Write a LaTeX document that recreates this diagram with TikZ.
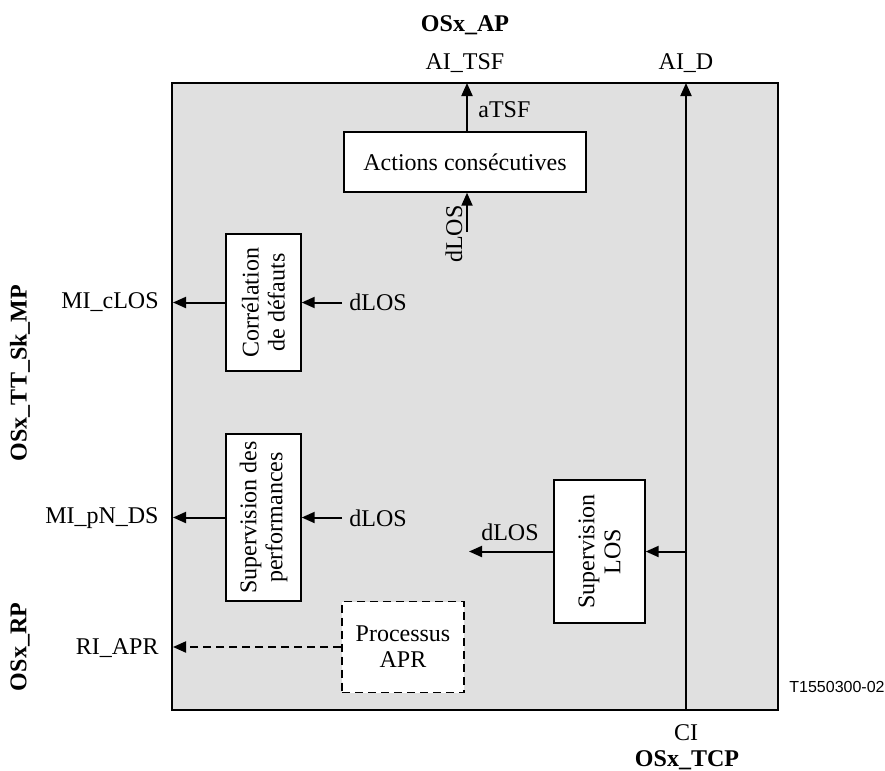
\documentclass[tikz,border=0pt]{standalone}
\usepackage{fontspec}
\setmainfont{Liberation Serif}
\newfontfamily\labsans{Liberation Sans}
\usetikzlibrary{arrows.meta}
\definecolor{panelgray}{RGB}{224,224,224}
\tikzset{
  box/.style={draw=black, line width=0.7pt, fill=white, inner sep=1pt, align=center, font=\fontsize{12}{13}\selectfont},
  dbox/.style={box, dashed, dash pattern=on 4pt off 2.5pt, line width=0.9pt},
  arr/.style={line width=1pt, -{Triangle[length=6.5pt,width=5.5pt]}},
  darr/.style={arr, dash pattern=on 4pt off 2.5pt},
  lab/.style={font=\fontsize{12}{13}\selectfont, inner sep=1pt},
  blab/.style={font=\bfseries\fontsize{12}{13}\selectfont, inner sep=1pt}
}
\begin{document}
\begin{tikzpicture}[x=0.5pt,y=-0.5pt]
\useasboundingbox (0,0) rectangle (885,771);
% main panel
\node[draw=black, line width=0.7pt, fill=panelgray, minimum width=303pt, minimum height=313.5pt, inner sep=0pt] (main) at (475,396.5) {};
% boxes
\node[box, minimum width=121pt, minimum height=30pt] (act) at (465,162) {Actions consécutives};
\node[box, rotate=90, minimum width=68.5pt, minimum height=37.5pt] (corr) at (263.5,302.5) {Corrélation\\de défauts};
\node[box, rotate=90, minimum width=83.5pt, minimum height=37.5pt] (perf) at (263.5,517.5) {Supervision des\\performances};
\node[box, rotate=90, minimum width=71.5pt, minimum height=45.5pt] (los) at (599.5,551.5) {Supervision\\LOS};
\node[dbox, minimum width=61pt, minimum height=45.5pt] (apr) at (403,647) {Processus\\APR};
% coordinates
\coordinate (tsfout) at (467,83);
\coordinate (dout) at (686,83);
\coordinate (ciin) at (686,710);
\coordinate (losin) at (686,551.5);
\coordinate (losout) at (469,551.5);
\coordinate (dlosact) at (467,232);
\coordinate (cortail) at (342,302.5);
\coordinate (perftail) at (342,517.5);
\coordinate (corhead) at (173,302.5);
\coordinate (perfhead) at (173,517.5);
\coordinate (aprhead) at (173,647);
% connectors
\draw[arr] (act.north -| tsfout) -- (tsfout);
\draw[arr] (dlosact) -- (act.south -| dlosact);
\draw[arr] (ciin) -- (dout);
\draw[arr] (losin) -- (los.south);
\draw[arr] (los.north) -- (losout);
\draw[arr] (corr.north) -- (corhead);
\draw[arr] (cortail) -- (corr.south);
\draw[arr] (perf.north) -- (perfhead);
\draw[arr] (perftail) -- (perf.south);
\draw[darr] (apr.west) -- (aprhead);
% labels
\node[blab] (osxap) at (465,25) {OSx\_AP};
\node[lab] (aitsf) at (465,63) {AI\_TSF};
\node[lab] (aid) at (686,63) {AI\_D};
\node[lab, anchor=west] (atsf) at (476,110) {aTSF};
\node[lab, rotate=90] (dlos1) at (454,234) {dLOS};
\node[lab, anchor=west] (dlos2) at (347,302) {dLOS};
\node[lab, anchor=west] (dlos3) at (347,518) {dLOS};
\node[lab] (dlos4) at (510,532) {dLOS};
\node[lab, anchor=east] (micl) at (161,302) {MI\_cLOS};
\node[lab, anchor=east] (mipn) at (161,518) {MI\_pN\_DS};
\node[lab, anchor=east] (riapr) at (161,648) {RI\_APR};
\node[blab, rotate=90] (osxmp) at (20,373) {OSx\_TT\_Sk\_MP};
\node[blab, rotate=90] (osxrp) at (20,647) {OSx\_RP};
\node[lab] (ci) at (686,733) {CI};
\node[blab] (osxtcp) at (687,760) {OSx\_TCP};
\node[font=\labsans\fontsize{8}{9}\selectfont, inner sep=0pt, anchor=west] (tref) at (789,687) {T1550300-02};
\end{tikzpicture}
\end{document}
